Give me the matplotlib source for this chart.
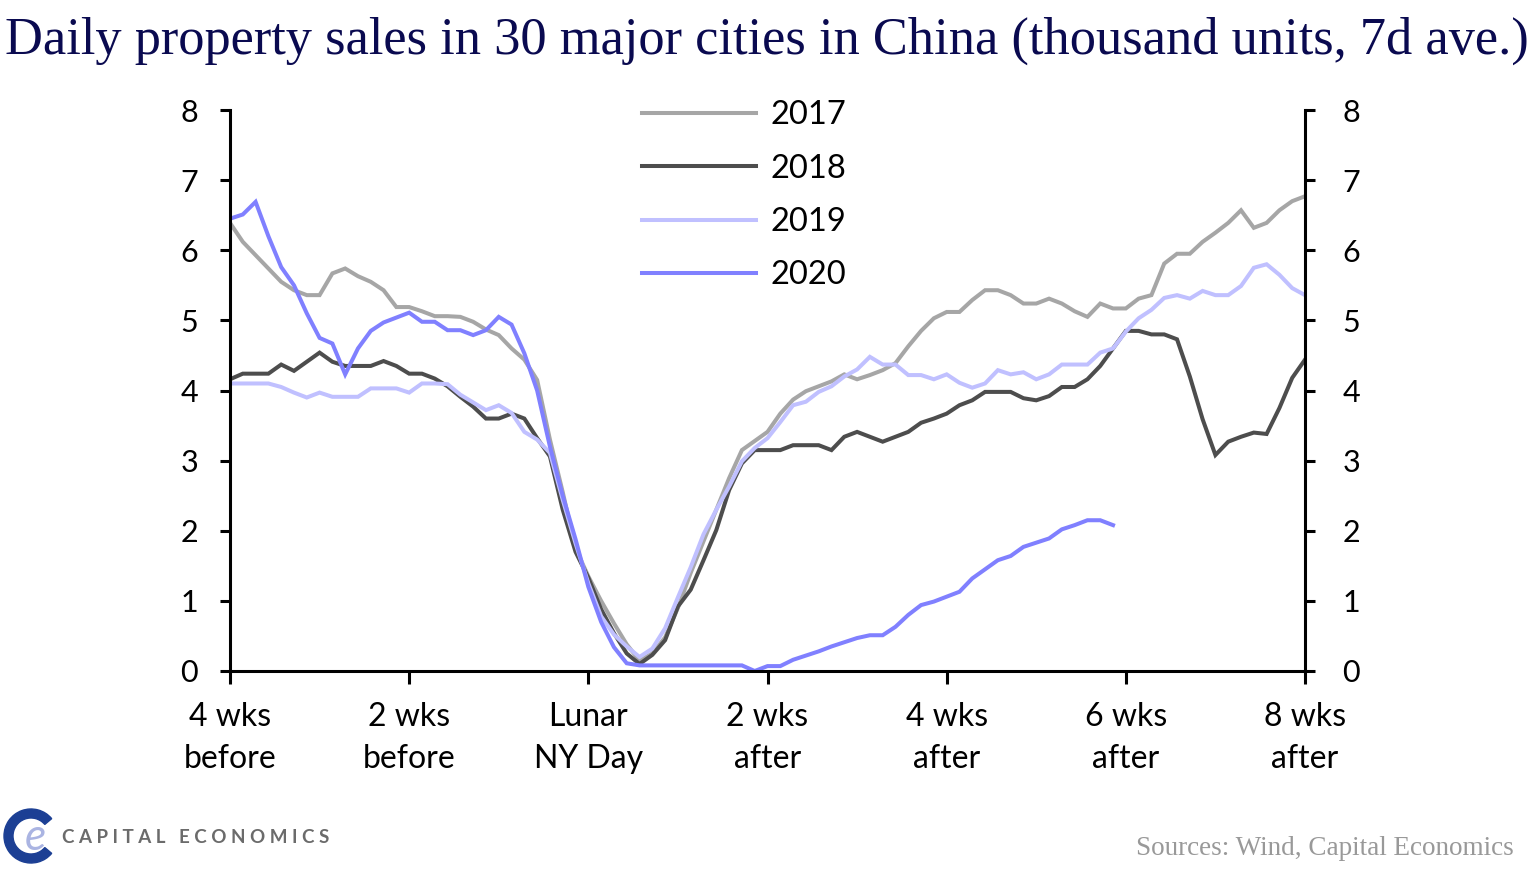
import numpy as np
import matplotlib
matplotlib.use("Agg")
import matplotlib.pyplot as plt
from matplotlib.patches import Wedge

# ---------------- data ----------------
days = list(range(-28, 57))

s2017 = [6.39, 6.12, 5.93, 5.74, 5.55, 5.43, 5.36, 5.36, 5.67, 5.74,
         5.63, 5.55, 5.43, 5.19, 5.19, 5.13, 5.06, 5.06, 5.05, 4.98,
         4.87, 4.79, 4.60, 4.44, 4.15, 3.30, 2.55, 1.75, 1.35, 1.00,
         0.68, 0.38, 0.15, 0.25, 0.48, 0.90, 1.40, 1.85, 2.30, 2.75,
         3.15, 3.28, 3.41, 3.67, 3.87, 3.99, 4.06, 4.13, 4.23, 4.16,
         4.22, 4.29, 4.39, 4.63, 4.85, 5.03, 5.12, 5.12, 5.29, 5.43,
         5.43, 5.36, 5.24, 5.24, 5.31, 5.24, 5.13, 5.05, 5.24, 5.17,
         5.17, 5.31, 5.36, 5.81, 5.95, 5.95, 6.12, 6.25, 6.39, 6.57,
         6.32, 6.39, 6.57, 6.70, 6.77]

s2018 = [4.16, 4.24, 4.24, 4.24, 4.37, 4.28, 4.41, 4.54, 4.41, 4.35,
         4.35, 4.35, 4.42, 4.35, 4.24, 4.24, 4.17, 4.06, 3.91, 3.77,
         3.60, 3.60, 3.67, 3.60, 3.32, 3.06, 2.30, 1.70, 1.33, 0.88,
         0.54, 0.25, 0.10, 0.23, 0.44, 0.92, 1.16, 1.58, 2.01, 2.58,
         2.96, 3.15, 3.15, 3.15, 3.22, 3.22, 3.22, 3.15, 3.34, 3.41,
         3.34, 3.27, 3.34, 3.41, 3.54, 3.60, 3.67, 3.79, 3.86, 3.98,
         3.98, 3.98, 3.89, 3.86, 3.92, 4.05, 4.05, 4.16, 4.35, 4.60,
         4.85, 4.85, 4.80, 4.80, 4.73, 4.20, 3.59, 3.08, 3.27, 3.34,
         3.40, 3.38, 3.75, 4.18, 4.44]

s2019 = [4.10, 4.10, 4.10, 4.10, 4.05, 3.97, 3.90, 3.97, 3.91, 3.91,
         3.91, 4.03, 4.03, 4.03, 3.97, 4.10, 4.10, 4.09, 3.94, 3.83,
         3.72, 3.79, 3.68, 3.41, 3.30, 3.11, 2.44, 1.82, 1.25, 0.78,
         0.52, 0.35, 0.20, 0.32, 0.61, 1.05, 1.48, 1.95, 2.30, 2.63,
         2.99, 3.18, 3.32, 3.55, 3.79, 3.84, 3.98, 4.06, 4.20, 4.30,
         4.48, 4.37, 4.37, 4.22, 4.22, 4.16, 4.23, 4.11, 4.04, 4.10,
         4.29, 4.23, 4.26, 4.16, 4.23, 4.37, 4.37, 4.37, 4.54, 4.60,
         4.84, 5.03, 5.15, 5.32, 5.36, 5.31, 5.42, 5.36, 5.36, 5.49,
         5.75, 5.80, 5.65, 5.46, 5.36]

s2020 = [6.45, 6.51, 6.69, 6.20, 5.76, 5.50, 5.10, 4.75, 4.67, 4.23,
         4.60, 4.85, 4.97, 5.04, 5.11, 4.98, 4.98, 4.86, 4.86, 4.79,
         4.86, 5.05, 4.94, 4.53, 4.00, 3.20, 2.50, 1.88, 1.20, 0.70,
         0.34, 0.11, 0.08, 0.08, 0.08, 0.08, 0.08, 0.08, 0.08, 0.08,
         0.08, 0.00, 0.07, 0.07, 0.16, 0.22, 0.28, 0.35, 0.41, 0.47,
         0.51, 0.51, 0.63, 0.80, 0.94, 0.99, 1.06, 1.13, 1.32, 1.45,
         1.58, 1.64, 1.77, 1.83, 1.89, 2.02, 2.08, 2.15, 2.15, 2.08]
s2020 = s2020 + [np.nan] * (len(days) - len(s2020))

series_names = ["2017", "2018", "2019", "2020"]
series_colors = ["#a6a6a6", "#4d4d4d", "#c0c0ff", "#8080ff"]

xtick_pos = [-28, -14, 0, 14, 28, 42, 56]
xtick_labels = ["4 wks\nbefore", "2 wks\nbefore", "Lunar\nNY Day", "2 wks\nafter",
                "4 wks\nafter", "6 wks\nafter", "8 wks\nafter"]
ytick_pos = [0, 1, 2, 3, 4, 5, 6, 7, 8]

title = "Daily property sales in 30 major cities in China (thousand units, 7d ave.)"
source = "Sources: Wind, Capital Economics"

# ---------------- figure ----------------
W, H = 1535, 874
fig = plt.figure(figsize=(W / 100, H / 100), dpi=100)
fig.patch.set_facecolor("white")

SANS = ["Lato", "DejaVu Sans"]
SERIF = ["Liberation Serif", "DejaVu Serif"]

ax = fig.add_axes([230 / W, (H - 671) / H, 1075 / W, 561 / H])
for name, vals, col in zip(series_names, [s2017, s2018, s2019, s2020], series_colors):
    ax.plot(days, vals, color=col, lw=2.9, label=name, solid_joinstyle="miter")

ax.set_xlim(-28, 56)
ax.set_ylim(0, 8)
ax.spines["top"].set_visible(False)
for sp in ["left", "right", "bottom"]:
    ax.spines[sp].set_linewidth(2.2)
    ax.spines[sp].set_color("black")

ax.set_xticks(xtick_pos)
ax.set_xticklabels(xtick_labels, fontsize=23, family=SANS, linespacing=1.5)
ax.set_yticks(ytick_pos)
ax.set_yticklabels([str(v) for v in ytick_pos], fontsize=22, family=SANS)
ax.tick_params(axis="x", direction="out", length=9, width=2.2, pad=13)
ax.tick_params(axis="y", direction="out", length=7, width=2.2, pad=16)

ax2 = ax.twinx()
ax2.set_ylim(0, 8)
ax2.set_yticks(ytick_pos)
ax2.set_yticklabels([str(v) for v in ytick_pos], fontsize=22, family=SANS)
ax2.tick_params(axis="y", direction="out", length=7, width=2.2, pad=20)
for sp in ax2.spines.values():
    sp.set_visible(False)

leg = ax.legend(loc="upper left", bbox_to_anchor=(642 / W, (H - 100) / H),
                bbox_transform=fig.transFigure, frameon=False,
                prop={"family": SANS, "size": 23.5}, handlelength=3.5,
                handletextpad=0.45, labelspacing=0.72, borderpad=0, borderaxespad=0)

# title
t = fig.text(5 / W, (H - 54) / H, title, family=SERIF, fontsize=30,
             color="#0a0a50", ha="left", va="baseline")
st = fig.text(1514 / W, (H - 855) / H, source, family=SERIF, fontsize=14,
              color="#999999", ha="right", va="baseline")

# logo
lc = fig.add_axes([0, 0, 70 / W, 80 / H])
lc.set_xlim(0, 70)
lc.set_ylim(0, 80)
lc.axis("off")
lc.add_patch(Wedge((31, 38), 27, 40, 320, width=9, color="#1c3f94"))
lc.text(35, 36, "e", fontsize=32, family=SANS, style="italic", color="#aab4e2",
        ha="center", va="center")
ct = fig.text(62 / W, (H - 843) / H, "C A P I T A L   E C O N O M I C S",
              family=SANS, fontsize=13, weight="bold", color="#6b6b6b",
              ha="left", va="baseline")

# fit texts to measured widths
fig.canvas.draw()
r = fig.canvas.get_renderer()
for obj, wpx in [(t, 1523), (st, 381), (ct, 268)]:
    bb = obj.get_window_extent(renderer=r)
    obj.set_fontsize(obj.get_fontsize() * wpx / bb.width)

fig.savefig("out.png", dpi=100)
